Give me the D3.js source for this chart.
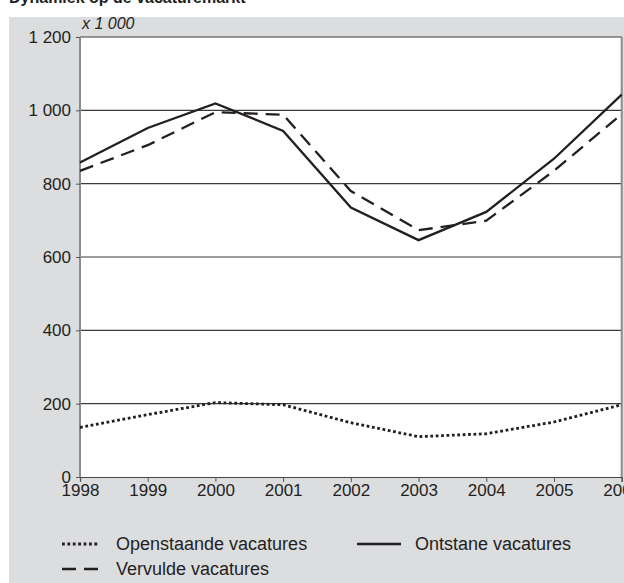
<!DOCTYPE html>
<html>
<head>
<meta charset="utf-8">
<script src="https://cdn.jsdelivr.net/npm/d3@7"></script>
<style>
  body { margin: 0; background: #fff; }
  svg { display: block; font-family: "Liberation Sans", Arial, sans-serif; }
</style>
</head>
<body>
<svg width="624" height="583"></svg>
<script>
// dati (x 1 000)
var years = [1998, 1999, 2000, 2001, 2002, 2003, 2004, 2005, 2006];
var openstaand = [135, 170, 203, 197, 148, 110, 118, 150, 197];
var ontstaan = [858, 952, 1019, 944, 735, 646, 723, 868, 1043];
var vervuld = [835, 905, 995, 988, 780, 673, 699, 835, 990];
var yTicks = [0, 200, 400, 600, 800, 1000, 1200];

var svg = d3.select("svg"),
	ink = "#231f20",
	pLeft = 80, pRight = 621.7, pTop = 37, pBottom = 477;

// titolo tagliato in alto
svg.append("text")
	.attr("x", 9).attr("y", 3)
	.attr("font-weight", "bold").attr("font-size", 16)
	.attr("fill", ink)
	.text("Dynamiek op de vacaturemarkt");

// sfondo grigio
svg.append("rect")
	.attr("x", 9).attr("y", 17).attr("width", 615).attr("height", 566)
	.attr("fill", "#dcdddf");

var x = d3.scaleLinear().domain([1998, 2006]).range([pLeft, pRight]),
	y = d3.scaleLinear().domain([0, 1200]).range([pBottom, pTop]);

svg.append("rect")
	.attr("x", pLeft).attr("y", pTop)
	.attr("width", pRight - pLeft).attr("height", pBottom - pTop)
	.attr("fill", "#fff");

// griglia
svg.append("g").selectAll("line")
	.data(yTicks.filter(function(d) { return d > 0; }))
	.join("line")
	.attr("x1", pLeft).attr("x2", pRight)
	.attr("y1", function(d) { return y(d); }).attr("y2", function(d) { return y(d); })
	.attr("stroke", "#3a3a3a").attr("stroke-width", 1.2);

// bordi laterali grigi
svg.append("line").attr("x1", pLeft).attr("x2", pLeft).attr("y1", pTop).attr("y2", pBottom)
	.attr("stroke", "#8c8c8c").attr("stroke-width", 2);
svg.append("line").attr("x1", pRight).attr("x2", pRight).attr("y1", pTop).attr("y2", pBottom)
	.attr("stroke", "#8c8c8c").attr("stroke-width", 2);

// asse y
var yAxis = svg.append("g")
	.attr("transform", "translate(" + pLeft + ",0)")
	.call(d3.axisLeft(y).tickValues(yTicks).tickSize(4).tickPadding(5)
		.tickFormat(function(d) { return d3.format(",")(d).replace(",", " "); }));
yAxis.select(".domain").remove();
yAxis.selectAll("line").attr("stroke", "#555");
yAxis.selectAll("text").attr("font-size", 17).attr("fill", ink);

// asse x
var xAxis = svg.append("g")
	.attr("transform", "translate(0," + pBottom + ")")
	.call(d3.axisBottom(x).tickValues(years).tickSize(5).tickPadding(2)
		.tickFormat(d3.format("d")));
xAxis.select(".domain").attr("stroke", "#444").attr("stroke-width", 1.2);
xAxis.selectAll("line").attr("stroke", "#555");
xAxis.selectAll("text").attr("font-size", 17).attr("fill", ink);

svg.append("text")
	.attr("x", 82).attr("y", 29)
	.attr("font-style", "italic").attr("font-size", 16).attr("fill", ink)
	.text("x 1 000");

// linee
var line = d3.line()
	.x(function(d, i) { return x(years[i]); })
	.y(function(d) { return y(d); });

var series = [
	{ values: openstaand, dash: "2.8,2.6", w: 2.8, label: "Openstaande vacatures" },
	{ values: vervuld, dash: "14,8", w: 2.3, label: "Vervulde vacatures" },
	{ values: ontstaan, dash: null, w: 2.3, label: "Ontstane vacatures" }
];

svg.append("g").selectAll("path")
	.data(series)
	.join("path")
	.attr("d", function(d) { return line(d.values); })
	.attr("fill", "none").attr("stroke", ink)
	.attr("stroke-width", function(d) { return d.w; })
	.attr("stroke-dasharray", function(d) { return d.dash; });

// legenda
var legendPos = [[62, 544], [62, 569], [357, 544]];
var lg = svg.append("g").selectAll("g")
	.data(series)
	.join("g")
	.attr("transform", function(d, i) { return "translate(" + legendPos[i][0] + "," + legendPos[i][1] + ")"; });
lg.append("line")
	.attr("x1", 0).attr("x2", function(d, i) { return i == 2 ? 44 : 36; })
	.attr("stroke", ink)
	.attr("stroke-width", function(d) { return d.w; })
	.attr("stroke-dasharray", function(d) { return d.dash; });
lg.append("text")
	.attr("x", function(d, i) { return i == 2 ? 58 : 54; })
	.attr("dy", "0.35em")
	.attr("font-size", 18).attr("fill", ink)
	.text(function(d) { return d.label; });
</script>
</body>
</html>
